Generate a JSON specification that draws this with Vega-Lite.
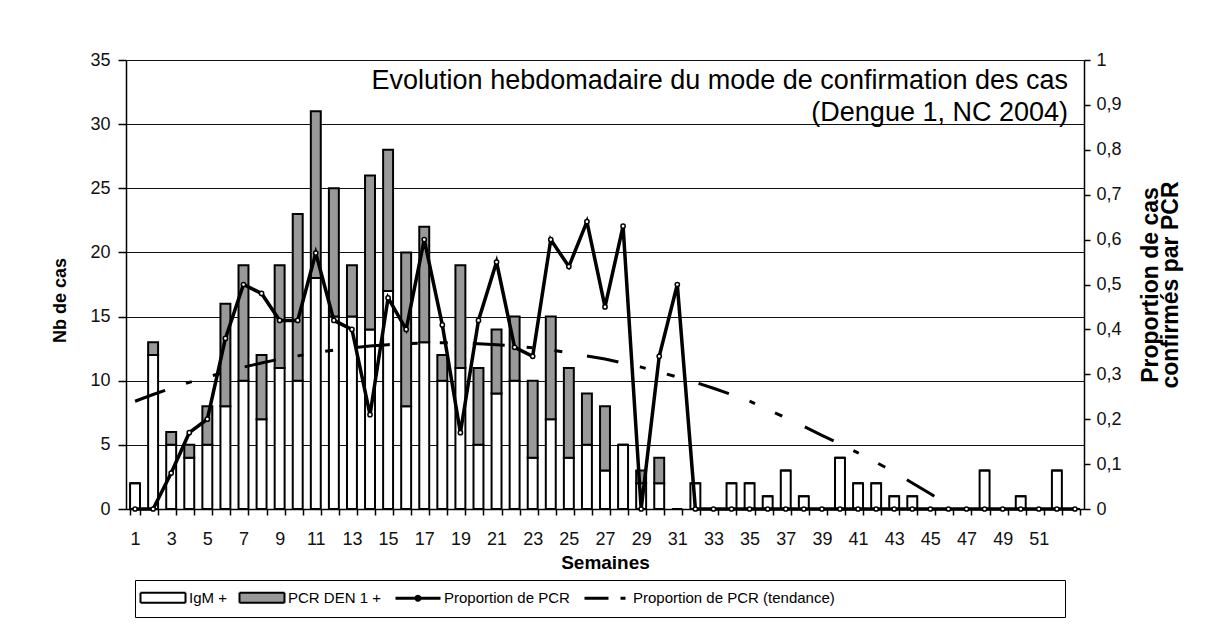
{
  "$schema": "https://vega.github.io/schema/vega-lite/v6.json",
  "width": 958,
  "height": 449,
  "autosize": {"type": "none"},
  "padding": {"left": 126, "top": 60, "right": 123, "bottom": 135},
  "background": "white",
  "config": {
    "font": "Liberation Sans",
    "view": {"stroke": null},
    "axis": {
      "labelFont": "Liberation Sans",
      "labelFontSize": 18,
      "labelColor": "#111",
      "titleFont": "Liberation Sans",
      "titleFontSize": 18,
      "titleFontWeight": "bold",
      "titleColor": "#000",
      "domainColor": "#000",
      "domainWidth": 1.5,
      "tickColor": "#000",
      "tickWidth": 1.5,
      "gridColor": "#111",
      "gridWidth": 1,
      "gridOpacity": 1
    }
  },
  "title": {
    "text": ["Evolution hebdomadaire du mode de confirmation des cas", "(Dengue 1, NC 2004)"],
    "anchor": "end",
    "frame": "group",
    "orient": "top",
    "offset": -76,
    "dx": -16,
    "fontSize": 27,
    "fontWeight": "normal",
    "font": "Liberation Sans",
    "color": "#000",
    "lineHeight": 32
  },
  "data": {
    "values": [
      {"week": 1, "igm": 2, "pcr": 0, "prop": 0, "trend": 0.240},
      {"week": 2, "igm": 12, "pcr": 1, "prop": 0, "trend": 0.255},
      {"week": 3, "igm": 5, "pcr": 1, "prop": 0.08, "trend": 0.269},
      {"week": 4, "igm": 4, "pcr": 1, "prop": 0.17, "trend": 0.282},
      {"week": 5, "igm": 5, "pcr": 3, "prop": 0.20, "trend": 0.294},
      {"week": 6, "igm": 8, "pcr": 8, "prop": 0.38, "trend": 0.305},
      {"week": 7, "igm": 10, "pcr": 9, "prop": 0.50, "trend": 0.316},
      {"week": 8, "igm": 7, "pcr": 5, "prop": 0.48, "trend": 0.325},
      {"week": 9, "igm": 11, "pcr": 8, "prop": 0.42, "trend": 0.334},
      {"week": 10, "igm": 10, "pcr": 13, "prop": 0.42, "trend": 0.341},
      {"week": 11, "igm": 18, "pcr": 13, "prop": 0.57, "trend": 0.348},
      {"week": 12, "igm": 15, "pcr": 10, "prop": 0.42, "trend": 0.354},
      {"week": 13, "igm": 15, "pcr": 4, "prop": 0.40, "trend": 0.359},
      {"week": 14, "igm": 14, "pcr": 12, "prop": 0.21, "trend": 0.363},
      {"week": 15, "igm": 17, "pcr": 11, "prop": 0.47, "trend": 0.366},
      {"week": 16, "igm": 8, "pcr": 12, "prop": 0.40, "trend": 0.368},
      {"week": 17, "igm": 13, "pcr": 9, "prop": 0.60, "trend": 0.370},
      {"week": 18, "igm": 10, "pcr": 2, "prop": 0.41, "trend": 0.370},
      {"week": 19, "igm": 11, "pcr": 8, "prop": 0.17, "trend": 0.370},
      {"week": 20, "igm": 5, "pcr": 6, "prop": 0.42, "trend": 0.368},
      {"week": 21, "igm": 9, "pcr": 5, "prop": 0.55, "trend": 0.366},
      {"week": 22, "igm": 10, "pcr": 5, "prop": 0.36, "trend": 0.363},
      {"week": 23, "igm": 4, "pcr": 6, "prop": 0.34, "trend": 0.359},
      {"week": 24, "igm": 7, "pcr": 8, "prop": 0.60, "trend": 0.354},
      {"week": 25, "igm": 4, "pcr": 7, "prop": 0.54, "trend": 0.348},
      {"week": 26, "igm": 5, "pcr": 4, "prop": 0.64, "trend": 0.341},
      {"week": 27, "igm": 3, "pcr": 5, "prop": 0.45, "trend": 0.334},
      {"week": 28, "igm": 5, "pcr": 0, "prop": 0.63, "trend": 0.325},
      {"week": 29, "igm": 2, "pcr": 1, "prop": 0, "trend": 0.316},
      {"week": 30, "igm": 2, "pcr": 2, "prop": 0.34, "trend": 0.305},
      {"week": 31, "igm": 0, "pcr": 0, "prop": 0.50, "trend": 0.294},
      {"week": 32, "igm": 2, "pcr": 0, "prop": 0, "trend": 0.282},
      {"week": 33, "igm": 0, "pcr": 0, "prop": 0, "trend": 0.269},
      {"week": 34, "igm": 2, "pcr": 0, "prop": 0, "trend": 0.255},
      {"week": 35, "igm": 2, "pcr": 0, "prop": 0, "trend": 0.240},
      {"week": 36, "igm": 1, "pcr": 0, "prop": 0, "trend": 0.222},
      {"week": 37, "igm": 3, "pcr": 0, "prop": 0, "trend": 0.203},
      {"week": 38, "igm": 1, "pcr": 0, "prop": 0, "trend": 0.184},
      {"week": 39, "igm": 0, "pcr": 0, "prop": 0, "trend": 0.164},
      {"week": 40, "igm": 4, "pcr": 0, "prop": 0, "trend": 0.145},
      {"week": 41, "igm": 2, "pcr": 0, "prop": 0, "trend": 0.125},
      {"week": 42, "igm": 2, "pcr": 0, "prop": 0, "trend": 0.104},
      {"week": 43, "igm": 1, "pcr": 0, "prop": 0, "trend": 0.082},
      {"week": 44, "igm": 1, "pcr": 0, "prop": 0, "trend": 0.058},
      {"week": 45, "igm": 0, "pcr": 0, "prop": 0, "trend": 0.034},
      {"week": 46, "igm": 0, "pcr": 0, "prop": 0, "trend": 0.008},
      {"week": 47, "igm": 0, "pcr": 0, "prop": 0, "trend": null},
      {"week": 48, "igm": 3, "pcr": 0, "prop": 0, "trend": null},
      {"week": 49, "igm": 0, "pcr": 0, "prop": 0, "trend": null},
      {"week": 50, "igm": 1, "pcr": 0, "prop": 0, "trend": null},
      {"week": 51, "igm": 0, "pcr": 0, "prop": 0, "trend": null},
      {"week": 52, "igm": 3, "pcr": 0, "prop": 0, "trend": null},
      {"week": 53, "igm": 0, "pcr": 0, "prop": 0, "trend": null}
    ]
  },
  "layer": [
    {
      "transform": [{"fold": ["igm", "pcr"], "as": ["serie", "n"]}],
      "mark": {"type": "bar", "stroke": "black", "strokeWidth": 2},
      "encoding": {
        "x": {
          "field": "week",
          "type": "ordinal",
          "scale": {"paddingInner": 0.45, "paddingOuter": 0.225},
          "axis": {
            "title": "Semaines",
            "labelAngle": 0,
            "labelExpr": "datum.value % 2 == 1 && datum.value < 53 ? datum.label : ''",
            "tickBand": "extent",
            "tickSize": 6,
            "labelPadding": 15,
            "titlePadding": 5,
            "grid": false,
            "titleFontSize": 19
          }
        },
        "y": {
          "field": "n",
          "type": "quantitative",
          "stack": "zero",
          "scale": {"domain": [0, 35]},
          "axis": {
            "title": "Nb de cas",
            "values": [0, 5, 10, 15, 20, 25, 30, 35],
            "grid": true,
            "tickSize": 8,
            "labelPadding": 8,
            "titlePadding": 20,
            "titleAlign": "center",
            "titleY": 240
          }
        },
        "color": {
          "field": "serie",
          "type": "nominal",
          "scale": {
            "domain": ["igm", "pcr", "prop", "trend"],
            "range": ["white", "#999999", "black", "black"]
          },
          "legend": {
            "orient": "none",
            "legendX": 9,
            "legendY": 520,
            "direction": "horizontal",
            "title": " ",
            "titleOrient": "right",
            "titlePadding": 220,
            "titleFontSize": 15,
            "strokeColor": "black",
            "fillColor": "white",
            "padding": 10,
            "labelFont": "Liberation Sans",
            "labelFontSize": 15,
            "labelColor": "black",
            "labelLimit": 600,
            "labelOffset": 29,
            "columnPadding": 8,
            "symbolSize": 400,
            "symbolStrokeColor": "black",
            "symbolStrokeWidth": {"expr": "datum.value == 'igm' || datum.value == 'pcr' ? 2 : 3"},
            "symbolType": {"expr": "datum.value == 'igm' || datum.value == 'pcr' ? 'M-1.2,-0.5H3.3V0.5H-1.2Z' : datum.value == 'prop' ? 'M-1.2,0H0.85M1.25,0H3.3M0.85,0A0.2,0.2 0 1,1 1.25,0A0.2,0.2 0 1,1 0.85,0' : 'M-1.2,0H3.3'"},
            "symbolDash": {"expr": "datum.value == 'trend' ? [24, 12, 5, 20] : [1, 0]"},
            "labelExpr": "datum.value == 'igm' ? 'IgM +' : datum.value == 'pcr' ? 'PCR DEN 1 +' : datum.value == 'prop' ? 'Proportion de PCR' : 'Proportion de PCR (tendance)'"
          }
        },
        "order": {"field": "serie", "sort": "ascending"}
      }
    },
    {
      "layer": [
        {
          "transform": [{"filter": "datum.trend != null"}],
          "mark": {"type": "line", "color": "black", "strokeWidth": 3, "strokeDash": [32, 22, 6, 22, 8, 25], "strokeCap": "butt"},
          "encoding": {
            "x": {"field": "week", "type": "ordinal"},
            "y": {
              "field": "trend",
              "type": "quantitative",
              "scale": {"domain": [0, 1]},
              "axis": {
                "orient": "right",
                "title": ["Proportion de cas", "confirmés par PCR"],
                "titleAngle": -90,
                "titleFontSize": 23,
                "titleLineHeight": 20,
                "values": [0, 0.1, 0.2, 0.3, 0.4, 0.5, 0.6, 0.7, 0.8, 0.9, 1],
                "labelExpr": "datum.value == 0 ? '0' : datum.value == 1 ? '1' : replace(format(datum.value, '.1f'), '.', ',')",
                "grid": false,
                "tickSize": 6,
                "labelPadding": 6,
                "titlePadding": 21
              }
            }
          }
        },
        {
          "mark": {"type": "line", "color": "black", "strokeWidth": 3.5},
          "encoding": {
            "x": {"field": "week", "type": "ordinal"},
            "y": {"field": "prop", "type": "quantitative", "scale": {"domain": [0, 1]}}
          }
        },
        {
          "mark": {"type": "point", "shape": "circle", "filled": true, "fill": "white", "stroke": "black", "strokeWidth": 1.5, "size": 18, "opacity": 1},
          "encoding": {
            "x": {"field": "week", "type": "ordinal"},
            "y": {"field": "prop", "type": "quantitative", "scale": {"domain": [0, 1]}}
          }
        }
      ]
    }
  ],
  "resolve": {"scale": {"y": "independent"}}
}
